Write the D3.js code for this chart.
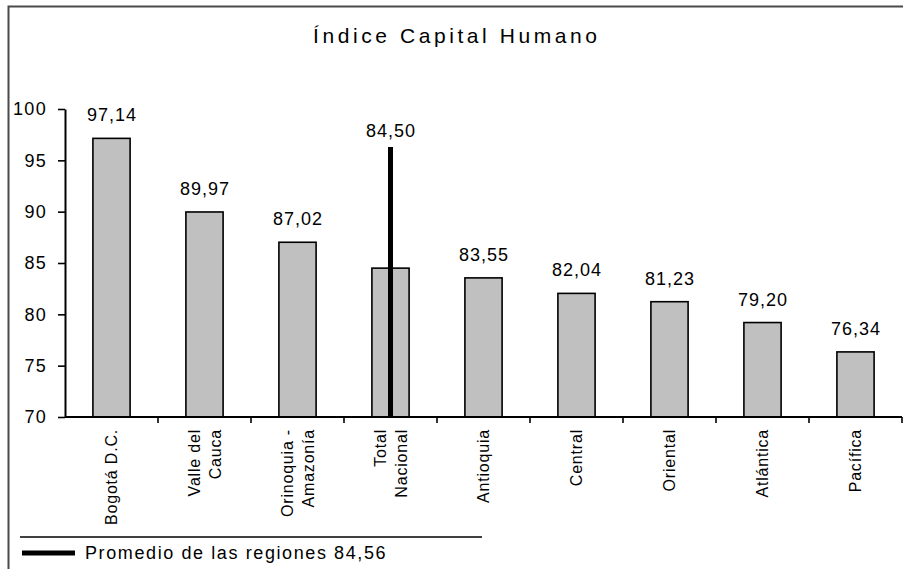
<!DOCTYPE html>
<html>
<head>
<meta charset="utf-8">
<script src="https://cdn.jsdelivr.net/npm/d3@7"></script>
<style>
  body { margin: 0; background: #fff; }
  text { font-family: Arial, "Liberation Sans", sans-serif; fill: #000; }
</style>
</head>
<body>
<svg class="chart"></svg>
<script>
// datos del grafico
var categorias = ["Bogotá D.C.", "Valle del\nCauca", "Orinoquia -\nAmazonía", "Total\nNacional",
                  "Antioquia", "Central", "Oriental", "Atlántica", "Pacífica"];
var valores = [97.14, 89.97, 87.02, 84.50, 83.55, 82.04, 81.23, 79.20, 76.34];
var ticksY = [70, 75, 80, 85, 90, 95, 100];
var titulo = "Índice Capital Humano";
// linea negra sobre "Total Nacional" (alto)
var lineaCategoria = "Total\nNacional";
var lineaTope = 96.3;
var promedioRegiones = 84.56;
var leyendaTexto = "Promedio de las regiones";

var width = 903, height = 569;

var svg = d3.select(".chart")
    .attr("width", width)
    .attr("height", height);

var fmt = d3.formatLocale({decimal: ",", thousands: ".", grouping: [3], currency: ["$", ""]}).format(".2f");

// scales
var x = d3.scaleBand().domain(categorias).range([65, 902]).paddingInner(0.6).paddingOuter(0.3);
var y = d3.scaleLinear().domain([70, 100]).range([417, 109]);

// marco
svg.append("path")
    .attr("d", "M8.5,569V6.5H903")
    .attr("fill", "none")
    .attr("stroke", "#4a4a4a")
    .attr("stroke-width", 2);

// titulo
svg.append("text")
    .attr("x", 455).attr("y", 43)
    .attr("text-anchor", "middle")
    .attr("textLength", 284)
    .attr("lengthAdjust", "spacing")
    .style("font-size", "21px")
    .text(titulo);

// barras
svg.selectAll(".bar").data(valores).enter()
    .append("rect")
    .attr("class", "bar")
    .attr("x", function(d, i) { return x(categorias[i]); })
    .attr("y", function(d) { return y(d); })
    .attr("width", x.bandwidth())
    .attr("height", function(d) { return y(70) - y(d); })
    .attr("fill", "#c0c0c0")
    .attr("stroke", "#000")
    .attr("stroke-width", 1.6);

// linea negra
svg.append("line")
    .attr("x1", x(lineaCategoria) + x.bandwidth() / 2)
    .attr("x2", x(lineaCategoria) + x.bandwidth() / 2)
    .attr("y1", y(lineaTope))
    .attr("y2", y(70))
    .attr("stroke", "#000")
    .attr("stroke-width", 5);

// etiquetas de valores
svg.selectAll(".val").data(valores).enter()
    .append("text")
    .attr("class", "val")
    .attr("x", function(d, i) { return x(categorias[i]) + x.bandwidth() / 2 + 0.5; })
    .attr("y", function(d, i) { return categorias[i] === lineaCategoria ? y(lineaTope) - 10 : y(d) - 17; })
    .attr("text-anchor", "middle")
    .style("font-size", "18px")
    .style("letter-spacing", "1px")
    .text(function(d) { return fmt(d); });

// eje Y
var yAxis = svg.append("g")
    .attr("transform", "translate(65,0)")
    .call(d3.axisLeft(y).tickValues(ticksY).tickSizeInner(7).tickSizeOuter(0).tickPadding(11));
yAxis.select(".domain").attr("stroke", "#000").attr("stroke-width", 2);
yAxis.selectAll(".tick line").attr("stroke", "#000").attr("stroke-width", 1.6);
yAxis.selectAll(".tick text")
    .style("font-family", "Arial, 'Liberation Sans', sans-serif")
    .style("font-size", "18px")
    .style("letter-spacing", "1.3px")
    .attr("fill", "#000");

// eje X
svg.append("line")
    .attr("x1", 65).attr("x2", 902)
    .attr("y1", y(70)).attr("y2", y(70))
    .attr("stroke", "#000").attr("stroke-width", 2);
svg.selectAll(".xtick").data(categorias).enter()
    .append("line")
    .attr("class", "xtick")
    .attr("x1", function(d) { return x(d) + x.bandwidth() + x.step() * x.paddingInner() / 2; })
    .attr("x2", function(d) { return x(d) + x.bandwidth() + x.step() * x.paddingInner() / 2; })
    .attr("y1", y(70)).attr("y2", y(70) + 6)
    .attr("stroke", "#000").attr("stroke-width", 1.6);

// etiquetas de categorias, giradas
svg.selectAll(".cat").data(categorias).enter()
    .append("text")
    .attr("class", "cat")
    .attr("transform", function(d) { return "translate(" + (x(d) + x.bandwidth() / 2) + ",429) rotate(-90)"; })
    .attr("text-anchor", "end")
    .style("font-size", "16px")
    .style("letter-spacing", "0.8px")
    .each(function(d) {
        var lineas = d.split("\n");
        var t = d3.select(this);
        lineas.forEach(function(l, j) {
            t.append("tspan")
                .attr("x", 0)
                .attr("dy", j === 0 ? (5.5 - (lineas.length - 1) * 10.5) : 21)
                .text(l);
        });
    });

// leyenda
svg.append("line")
    .attr("x1", 20).attr("x2", 482)
    .attr("y1", 537).attr("y2", 537)
    .attr("stroke", "#000").attr("stroke-width", 1.5);
svg.append("line")
    .attr("x1", 22).attr("x2", 75)
    .attr("y1", 553).attr("y2", 553)
    .attr("stroke", "#000").attr("stroke-width", 5);
svg.append("text")
    .attr("x", 85).attr("y", 559)
    .style("font-size", "18px")
    .style("letter-spacing", "1.6px")
    .text(leyendaTexto + " " + fmt(promedioRegiones));
</script>
</body>
</html>
